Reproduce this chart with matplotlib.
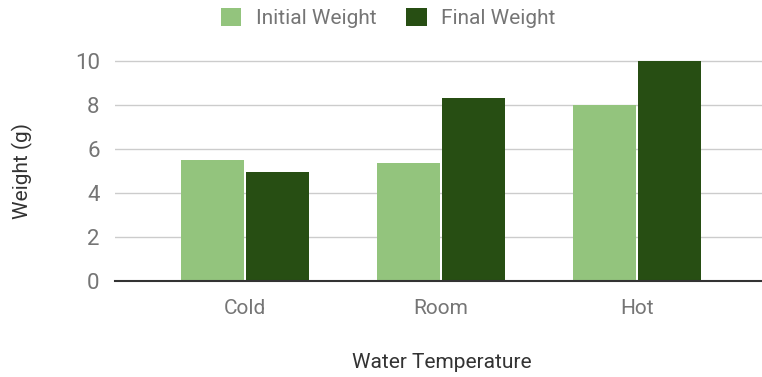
import numpy as np
import matplotlib.pyplot as plt
from matplotlib.patches import Patch

plt.rcParams['font.family'] = ['Roboto', 'DejaVu Sans']

temps = ["Cold", "Room", "Hot"]
initial_weight = [5.5, 5.35, 8.0]
final_weight = [4.95, 8.3, 10.0]

LIGHT = "#93c47d"
DARK = "#274e13"
TICK = "#757575"
TITLE = "#333333"

fig = plt.figure(figsize=(7.62, 3.77), dpi=100)
ax = fig.add_axes([115 / 762, 1 - 281 / 377, 1 - 115 / 762, (281 - 50) / 377])

x = np.arange(len(temps))
w = 0.32
ax.bar(x - w / 2 - 0.005, initial_weight, width=w, color=LIGHT, zorder=3)
ax.bar(x + w / 2 + 0.005, final_weight, width=w, color=DARK, zorder=3)

ax.set_xlim(-0.663, 2.638)
ax.set_ylim(0, 10.5)
ax.set_yticks([0, 2, 4, 6, 8, 10])
ax.set_xticks(x)
ax.set_xticklabels(temps)
ax.grid(axis="y", color="#cccccc", lw=1.0, zorder=0)
ax.tick_params(axis="both", length=0, colors=TICK)
ax.tick_params(axis="y", pad=11, labelsize=16)
ax.tick_params(axis="x", pad=13, labelsize=15)

for s in ["top", "right", "left"]:
    ax.spines[s].set_visible(False)
ax.spines["bottom"].set_color(TITLE)
ax.spines["bottom"].set_linewidth(1.5)
ax.spines["bottom"].set_zorder(4)

fig.text(22 / 762, 1 - 171 / 377, "Weight (g)", rotation=90, ha="center",
         va="center", fontsize=15, color=TITLE)
fig.text(442 / 762, 1 - 362 / 377, "Water Temperature", ha="center",
         va="center", fontsize=15, color=TITLE)

handles = [Patch(facecolor=LIGHT, label="Initial Weight"),
           Patch(facecolor=DARK, label="Final Weight")]
leg = fig.legend(handles=handles, loc="center", bbox_to_anchor=(388 / 762, 1 - 18 / 377),
                 ncol=2, frameon=False, fontsize=15, handlelength=1.0,
                 handleheight=1.0, handletextpad=0.7, columnspacing=1.4)
for t in leg.get_texts():
    t.set_color(TICK)

fig.savefig("out.png", dpi=100)
